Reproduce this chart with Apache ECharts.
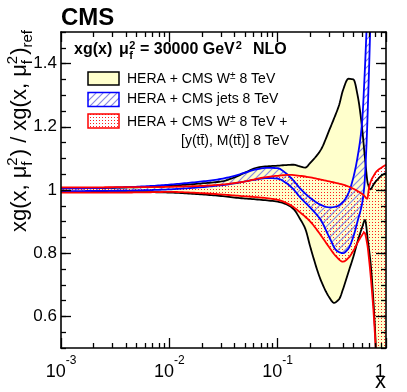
<!DOCTYPE html>
<html>
<head>
<meta charset="utf-8">
<script src="https://cdn.jsdelivr.net/npm/echarts@6/dist/echarts.min.js"></script>
<style>
html,body{margin:0;padding:0;background:#fff;overflow:hidden}
#chart{width:407px;height:392px}
</style>
</head>
<body>
<div id="chart"></div>
<script>
// ---------- axis ticks / labels ----------
const xMajorTicks = [0.001, 0.01, 0.1, 1];
const xMinorTicks = [0.002,0.003,0.004,0.005,0.006,0.007,0.008,0.009,
                     0.02,0.03,0.04,0.05,0.06,0.07,0.08,0.09,
                     0.2,0.3,0.4,0.5,0.6,0.7,0.8,0.9];
const yMajorTicks = [0.6, 0.8, 1.0, 1.2, 1.4];

// ---------- HERA + CMS W± 8 TeV (yellow band, black lines) ----------
const wX  = [0.001,0.002,0.004,0.007,0.01,0.02,0.03,0.04,0.05,0.065,0.08,0.1,0.12,0.14,0.16,0.18,0.2,0.25,0.3,0.33,0.37,0.4,0.45,0.5,0.55,0.6,0.64,0.68,0.72,0.76,0.8,0.85,0.9,1.0];
const wHi = [1.006,1.006,1.008,1.010,1.013,1.021,1.027,1.040,1.055,1.071,1.075,1.077,1.079,1.080,1.075,1.071,1.086,1.127,1.19,1.225,1.27,1.315,1.352,1.35,1.295,1.20,1.10,1.02,1.002,1.015,1.026,1.036,1.045,1.054];
const wLo = [0.994,0.994,0.993,0.993,0.992,0.986,0.981,0.976,0.973,0.970,0.967,0.963,0.955,0.940,0.910,0.877,0.82,0.715,0.66,0.643,0.655,0.685,0.74,0.789,0.84,0.88,0.905,0.84,0.77,0.665,0.527,0.3,0.05,-0.5];

// ---------- HERA + CMS jets 8 TeV (blue hatched band) ----------
const jX  = [0.001,0.002,0.004,0.007,0.01,0.02,0.03,0.04,0.05,0.065,0.08,0.1,0.12,0.14,0.16,0.2,0.25,0.3,0.35,0.4,0.45,0.5,0.55,0.6,0.63,0.66,0.69,0.72,0.75];
const jHi = [1.005,1.006,1.009,1.013,1.017,1.027,1.035,1.045,1.055,1.066,1.070,1.069,1.052,1.030,1.006,0.975,0.953,0.945,0.948,0.962,0.99,1.04,1.11,1.21,1.34,1.50,1.68,1.9,2.15];
const jLo = [0.996,0.997,0.998,1.000,1.002,1.009,1.015,1.021,1.027,1.034,1.038,1.036,1.022,1.002,0.978,0.944,0.905,0.850,0.808,0.800,0.815,0.853,0.905,0.955,1.01,1.14,1.33,1.55,1.8];

// ---------- HERA + CMS W± 8 TeV + ttbar (red dotted band) ----------
const tX  = [0.001,0.002,0.004,0.007,0.01,0.02,0.03,0.05,0.07,0.1,0.13,0.16,0.2,0.25,0.3,0.35,0.4,0.45,0.5,0.55,0.6,0.63,0.67,0.7,0.74,0.77,0.8,0.85,0.9,1.0];
const tHi = [1.0085,1.0085,1.009,1.009,1.010,1.013,1.017,1.027,1.038,1.045,1.048,1.045,1.040,1.033,1.027,1.022,1.017,1.011,1.004,0.996,0.988,0.982,0.972,1.01,1.035,1.045,1.055,1.064,1.07,1.08];
const tLo = [0.9915,0.9915,0.992,0.993,0.994,0.990,0.986,0.980,0.976,0.969,0.953,0.930,0.900,0.857,0.818,0.788,0.773,0.785,0.808,0.835,0.857,0.866,0.83,0.775,0.685,0.606,0.51,0.3,0.0,-0.5];

// ---------- helpers ----------
const FONT = '"Liberation Sans", Arial, Helvetica, sans-serif';
const mc = document.createElement('canvas').getContext('2d');
function textW(t, size, weight){ mc.font = (weight||'normal') + ' ' + size + 'px ' + FONT; return mc.measureText(t).width; }

function makeHatch(){
  const c = document.createElement('canvas'); c.width = 7; c.height = 7;
  const g = c.getContext('2d');
  g.strokeStyle = '#8888e4'; g.lineWidth = 1.2;
  g.beginPath();
  for (const o of [-7, 0, 7]) { g.moveTo(o - 1, 8); g.lineTo(o + 8, -1); }
  g.stroke();
  return c;
}
function makeDots(){
  const c = document.createElement('canvas'); c.width = 3; c.height = 3;
  const g = c.getContext('2d');
  g.fillStyle = 'rgb(255,30,30)'; g.fillRect(0, 0, 1, 1);
  return c;
}
const hatchFill = {image: makeHatch(), repeat: 'repeat'};
const dotsFill = {image: makeDots(), repeat: 'repeat'};
const yellowFill = '#ffffcc';

// monotone cubic smoothing of pixel points (x increasing)
function monotonePts(p){
  const n = p.length; if (n < 3) return p.slice();
  const h = [], d = [];
  for (let i = 0; i < n - 1; i++) { h[i] = p[i+1][0] - p[i][0]; d[i] = h[i] === 0 ? 0 : (p[i+1][1] - p[i][1]) / h[i]; }
  const m = new Array(n);
  m[0] = d[0]; m[n-1] = d[n-2];
  for (let i = 1; i < n - 1; i++) {
    if (d[i-1] * d[i] <= 0) m[i] = 0;
    else { const w1 = 2*h[i] + h[i-1], w2 = h[i] + 2*h[i-1]; m[i] = (w1 + w2) / (w1 / d[i-1] + w2 / d[i]); }
  }
  const out = [];
  for (let i = 0; i < n - 1; i++) {
    const steps = Math.max(2, Math.ceil(Math.hypot(h[i], p[i+1][1] - p[i][1]) / 2));
    for (let s = 0; s < steps; s++) {
      const u = s / steps, u2 = u*u, u3 = u2*u;
      const y = (2*u3 - 3*u2 + 1)*p[i][1] + (u3 - 2*u2 + u)*h[i]*m[i] + (-2*u3 + 3*u2)*p[i+1][1] + (u3 - u2)*h[i]*m[i+1];
      out.push([p[i][0] + u*h[i], y]);
    }
  }
  out.push(p[n-1]);
  return out;
}
function curvePx(api, xs, ys){ return monotonePts(xs.map((x, i) => api.coord([x, ys[i]]))); }

function bandFill(xs, lo, hi, fill, z){
  return {
    type: 'custom', coordinateSystem: 'cartesian2d', xAxisIndex: 0, yAxisIndex: 0,
    clip: true, silent: true, z: z,
    data: xs.map((x, i) => [x, lo[i], hi[i]]), encode: {x: 0, y: [1, 2]},
    renderItem(params, api){
      if (params.dataIndex !== 0) return null;
      const top = curvePx(api, xs, hi);
      const bot = curvePx(api, xs, lo).reverse();
      return {type: 'polygon', shape: {points: top.concat(bot)}, style: {fill: fill, stroke: 'none'}};
    }
  };
}
function bandLine(xs, ys, color, z){
  return {
    type: 'custom', coordinateSystem: 'cartesian2d', xAxisIndex: 0, yAxisIndex: 0,
    clip: true, silent: true, z: z,
    data: xs.map((x, i) => [x, ys[i]]), encode: {x: 0, y: 1},
    renderItem(params, api){
      if (params.dataIndex !== 0) return null;
      return {type: 'polyline', shape: {points: curvePx(api, xs, ys)},
              style: {stroke: color, lineWidth: 1.8, fill: 'none', lineJoin: 'round'}};
    }
  };
}

// ---------- axes ----------
const BLK = '#000';
function xAx(pos, vals, len, showLine, withLabels){
  const ax = {
    type: 'log', logBase: 10, min: 0.001, max: 1, position: pos, gridIndex: 0, z: 10,
    axisLine: {show: showLine, onZero: false, lineStyle: {color: BLK, width: 1.6}},
    axisTick: {show: true, inside: true, length: len, customValues: vals, lineStyle: {color: BLK, width: 1.3}},
    splitLine: {show: false}, minorTick: {show: false}, minorSplitLine: {show: false},
    axisLabel: {show: false}
  };
  if (withLabels) {
    ax.axisLabel = {
      show: true, customValues: xMajorTicks, margin: 7, color: BLK,
      formatter: function(v){
        if (Math.abs(v - 1) < 1e-9) return '{one|1}';
        return '{b|10}{s|' + Math.round(Math.log10(v)) + '}';
      },
      rich: {
        b: {fontSize: 18, fontFamily: FONT, color: BLK, lineHeight: 26, verticalAlign: 'bottom'},
        s: {fontSize: 12, fontFamily: FONT, color: BLK, lineHeight: 12, verticalAlign: 'top'},
        one: {fontSize: 18, fontFamily: FONT, color: BLK, lineHeight: 26, verticalAlign: 'bottom', padding: [0, 12, 0, 0]}
      }
    };
  }
  return ax;
}
function yAx(pos, major, len, showLine, withLabels){
  const ax = {
    type: 'value', min: 0.5, max: 1.5, position: pos, gridIndex: 0, z: 10,
    axisLine: {show: showLine, onZero: false, lineStyle: {color: BLK, width: 1.6}},
    axisTick: {show: true, inside: true, length: len, lineStyle: {color: BLK, width: 1.3}},
    splitLine: {show: false},
    axisLabel: {show: false}
  };
  if (major) ax.axisTick.customValues = yMajorTicks; else ax.interval = 0.05;
  if (withLabels) {
    ax.axisLabel = {show: true, customValues: yMajorTicks, margin: 4, fontSize: 17, fontFamily: FONT, color: BLK,
      formatter: v => (Math.abs(v - 1) < 1e-9 ? '1' : String(+v.toFixed(1)))};
  }
  return ax;
}

// ---------- text graphics ----------
function tB(x, base, t, size, weight, align){
  return {type: 'text', x: x, y: base - 0.35*size, z: 50, silent: true,
    style: {text: t, font: (weight||'normal') + ' ' + size + 'px ' + FONT, fill: BLK,
            align: align||'left', verticalAlign: 'middle', textAlign: align||'left', textVerticalAlign: 'middle'}};
}
const gfx = [];
gfx.push(tB(61, 27, 'CMS', 24, 'bold'));
gfx.push(tB(74, 55, 'xg(x)', 16, 'bold'));
gfx.push(tB(119, 55, 'μ', 16, 'bold'));
const muW = textW('μ', 16, 'bold');
gfx.push(tB(119 + muW + 0.5, 50, '2', 11, 'bold'));
gfx.push(tB(119 + muW + 0.5, 60, 'f', 11, 'bold'));
gfx.push(tB(140, 55, '= 30000 GeV', 16, 'bold'));
gfx.push(tB(140 + textW('= 30000 GeV', 16, 'bold') + 1, 50, '2', 11, 'bold'));
gfx.push(tB(253, 55, 'NLO', 16, 'bold'));

// legend
gfx.push({type: 'rect', z: 40, silent: true, shape: {x: 88, y: 72, width: 31, height: 13}, style: {fill: yellowFill, stroke: BLK, lineWidth: 1.5}});
gfx.push({type: 'rect', z: 40, silent: true, shape: {x: 88, y: 92.5, width: 31, height: 14}, style: {fill: hatchFill, stroke: '#0000ff', lineWidth: 1.5}});
gfx.push({type: 'rect', z: 40, silent: true, shape: {x: 88, y: 114, width: 31, height: 14}, style: {fill: dotsFill, stroke: '#ff0000', lineWidth: 1.5}});
const legRich = {
  n: {fontSize: 14, fontFamily: FONT, fill: BLK, lineHeight: 16},
  s: {fontSize: 10, fontFamily: FONT, fill: BLK, lineHeight: 10, verticalAlign: 'top'}
};
function legText(x, yc, t){
  return {type: 'text', x: x, y: yc, z: 50, silent: true,
    style: {text: t, rich: legRich, fill: BLK, align: 'left', verticalAlign: 'middle', textAlign: 'left', textVerticalAlign: 'middle'}};
}
gfx.push(legText(127, 79, '{n|HERA + CMS W}{s|±}{n| 8 TeV}'));
gfx.push(legText(127, 99.5, '{n|HERA + CMS jets 8 TeV}'));
gfx.push(legText(127, 122, '{n|HERA + CMS W}{s|±}{n| 8 TeV +}'));
gfx.push(legText(181, 141.5, '{n|[y(tt\u0304), M(tt\u0304)] 8 TeV}'));

// y title (rotated)
const yKids = []; let pos = 0;
function seg(t, size, base){
  yKids.push({type: 'text', x: pos, y: base - 0.35*size, silent: true,
    style: {text: t, font: size + 'px ' + FONT, fill: BLK, align: 'left', verticalAlign: 'middle', textAlign: 'left', textVerticalAlign: 'middle'}});
  return textW(t, size);
}
pos += seg('xg(x, μ', 22, 0);
let a1 = seg('2', 15, -10), b1 = seg('f', 15, 5); pos += Math.max(a1, b1) + 1;
pos += seg(') / xg(x, μ', 22, 0);
a1 = seg('2', 15, -10); b1 = seg('f', 15, 5); pos += Math.max(a1, b1) + 1;
pos += seg(')', 22, 0);
pos += seg('ref', 15, 5);
gfx.push({type: 'group', x: 28, y: 30 + pos, rotation: Math.PI / 2, z: 50, silent: true, children: yKids});

// x title
gfx.push(tB(386, 390, 'x', 22, 'normal', 'right'));

// ---------- chart ----------
const chart = echarts.init(document.getElementById('chart'), null, {renderer: 'canvas', width: 407, height: 392});
chart.setOption({
  animation: false,
  backgroundColor: '#fff',
  grid: {left: 61, right: 21, top: 32, bottom: 44, containLabel: false, outerBoundsMode: 'none'},
  xAxis: [
    xAx('bottom', xMajorTicks, 10, true, true),
    xAx('bottom', xMinorTicks, 5, false, false),
    xAx('top', xMajorTicks, 10, true, false),
    xAx('top', xMinorTicks, 5, false, false)
  ],
  yAxis: [
    yAx('left', true, 10, true, true),
    yAx('left', false, 5, false, false),
    yAx('right', true, 10, true, false),
    yAx('right', false, 5, false, false)
  ],
  series: [
    bandFill(wX, wLo, wHi, yellowFill, 1),
    bandFill(tX, tLo, tHi, dotsFill, 2),
    bandFill(jX, jLo, jHi, hatchFill, 3),
    bandLine(wX, wHi, BLK, 4),
    bandLine(wX, wLo, BLK, 4),
    bandLine(jX, jHi, '#0000ff', 5),
    bandLine(jX, jLo, '#0000ff', 5),
    bandLine(tX, tHi, '#ff0000', 6),
    bandLine(tX, tLo, '#ff0000', 6)
  ],
  graphic: {elements: gfx}
});
</script>
</body>
</html>
